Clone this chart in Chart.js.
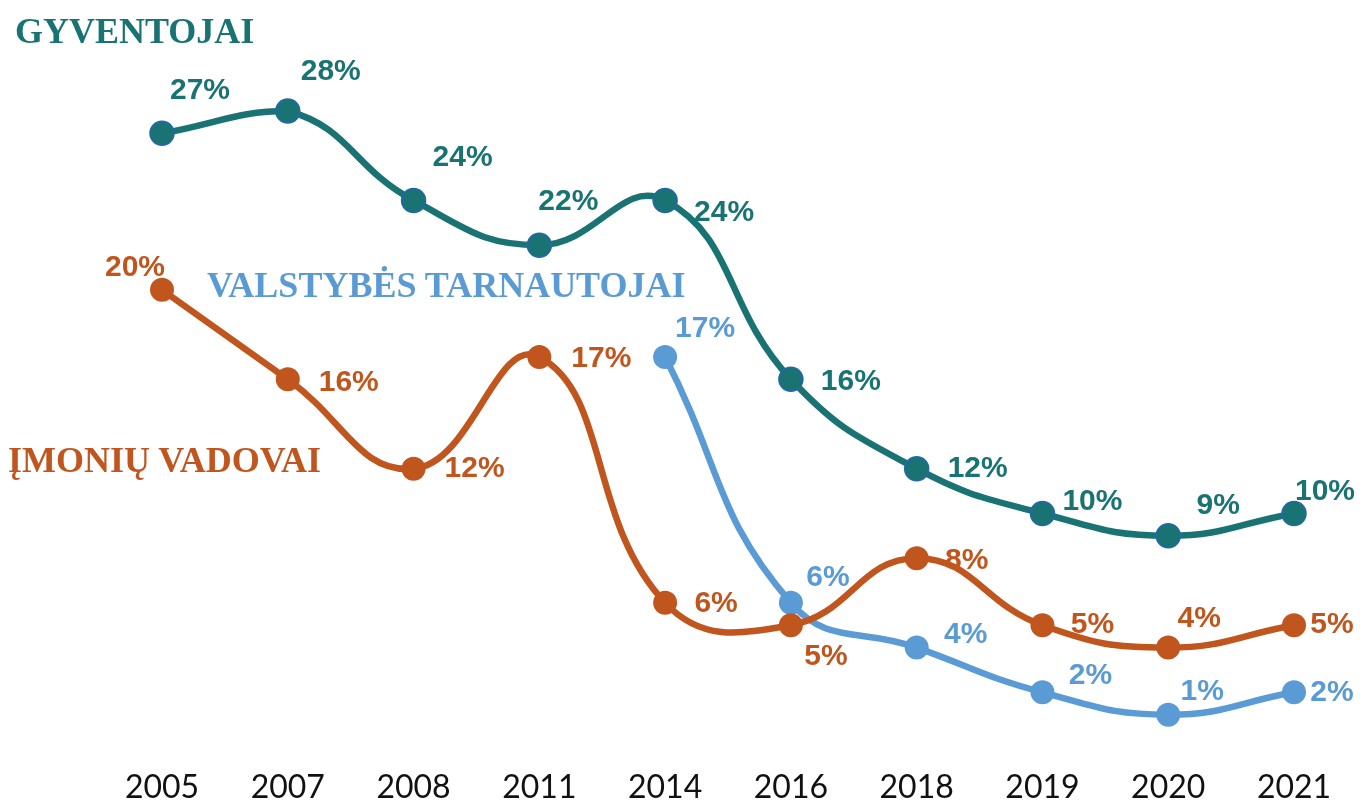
<!DOCTYPE html>
<html>
<head>
<meta charset="utf-8">
<script src="https://cdn.jsdelivr.net/npm/chart.js@4.4.0/dist/chart.umd.min.js"></script>
<style>
    body { margin: 0; background: white; }
    #wrap { position: relative; width: 1363px; height: 804px; }
    .title { position: absolute; font-family: "Liberation Serif", serif; font-weight: bold; font-size: 36px; line-height: 1; white-space: nowrap; }
</style>
</head>
<body>
<div id="wrap">
    <canvas id="chart" width="1363" height="804"></canvas>
    <div class="title" style="left: 15px; top: 13px; color: #1a7373;">GYVENTOJAI</div>
    <div class="title" style="left: 207px; top: 267px; color: #5b9bd5;">VALSTYBĖS TARNAUTOJAI</div>
    <div class="title" style="left: 8px; top: 442px; color: #c0561e;">ĮMONIŲ VADOVAI</div>
</div>
<script>
var years = ["2005", "2007", "2008", "2011", "2014", "2016", "2018", "2019", "2020", "2021"];
var gyventojai = [27, 28, 24, 22, 24, 16, 12, 10, 9, 10];
var vadovai = [20, 16, 12, 17, 6, 5, 8, 5, 4, 5];
var tarnautojai = [null, null, null, null, 17, 6, 4, 2, 1, 2];

// label offsets from each point, [dx, dy]
var gyvOffsets = [[38, -43], [43, -39], [49, -43], [29, -43], [59, 12], [60, 2], [61, 0], [50, -12], [50, -30], [31, -22]];
var vadOffsets = [[-27, -22], [61, 3], [61, 0], [62, 2], [51, 1], [35, 32], [50, 3], [50, 0], [31, -29], [38, 0]];
var tarOffsets = [null, null, null, null, [40, -28], [37, -25], [49, -13], [48, -17], [34, -23], [38, 0]];

var valueLabels = {
    id: 'valueLabels',
    afterDatasetsDraw: function(chart) {
        const ctx = chart.ctx;
        ctx.save();
        ctx.font = "bold 30px 'Liberation Sans', Arial, sans-serif";
        ctx.textAlign = "center";
        ctx.textBaseline = "middle";
        chart.data.datasets.forEach(function(ds, i) {
            const meta = chart.getDatasetMeta(i);
            meta.data.forEach(function(pt, j) {
                const v = ds.data[j];
                const off = ds.labelOffsets[j];
                if (v === null || !off) return;
                ctx.fillStyle = ds.borderColor;
                ctx.fillText(v + "%", pt.x + off[0], pt.y + off[1]);
            });
        });
        ctx.restore();
    }
};

new Chart(document.getElementById('chart'), {
    type: 'line',
    data: {
        labels: years,
        datasets: [{
            label: 'Gyventojai',
            data: gyventojai,
            labelOffsets: gyvOffsets,
            borderColor: '#1a7373',
            backgroundColor: '#1a7373',
            pointBorderColor: '#2566b0',
            pointBorderWidth: 1.5,
            borderWidth: 6.5,
            pointRadius: 12,
            tension: 0.45,
            clip: false
        }, {
            label: 'Įmonių vadovai',
            data: vadovai,
            labelOffsets: vadOffsets,
            borderColor: '#c0561e',
            backgroundColor: '#c0561e',
            pointBorderColor: '#c0561e',
            pointBorderWidth: 0,
            borderWidth: 6.5,
            pointRadius: 12,
            tension: 0.45,
            clip: false
        }, {
            label: 'Valstybės tarnautojai',
            data: tarnautojai,
            labelOffsets: tarOffsets,
            borderColor: '#5b9bd5',
            backgroundColor: '#5b9bd5',
            pointBorderColor: '#5b9bd5',
            pointBorderWidth: 0,
            borderWidth: 6.5,
            pointRadius: 12,
            tension: 0.45,
            clip: false
        }]
    },
    options: {
        responsive: false,
        animation: false,
        layout: { padding: { left: 162, right: 69, top: 111, bottom: 0 } },
        plugins: { legend: { display: false }, tooltip: { enabled: false } },
        scales: {
            x: {
                offset: false,
                grid: { display: false, drawTicks: true, tickLength: 35 },
                border: { display: false },
                ticks: {
                    color: '#111',
                    padding: 0,
                    font: { family: 'Lato', size: 32, lineHeight: 1 },
                    maxRotation: 0,
                    autoSkip: false
                }
            },
            y: {
                display: false,
                min: 0,
                max: 28
            }
        }
    },
    plugins: [valueLabels]
});
</script>
</body>
</html>
